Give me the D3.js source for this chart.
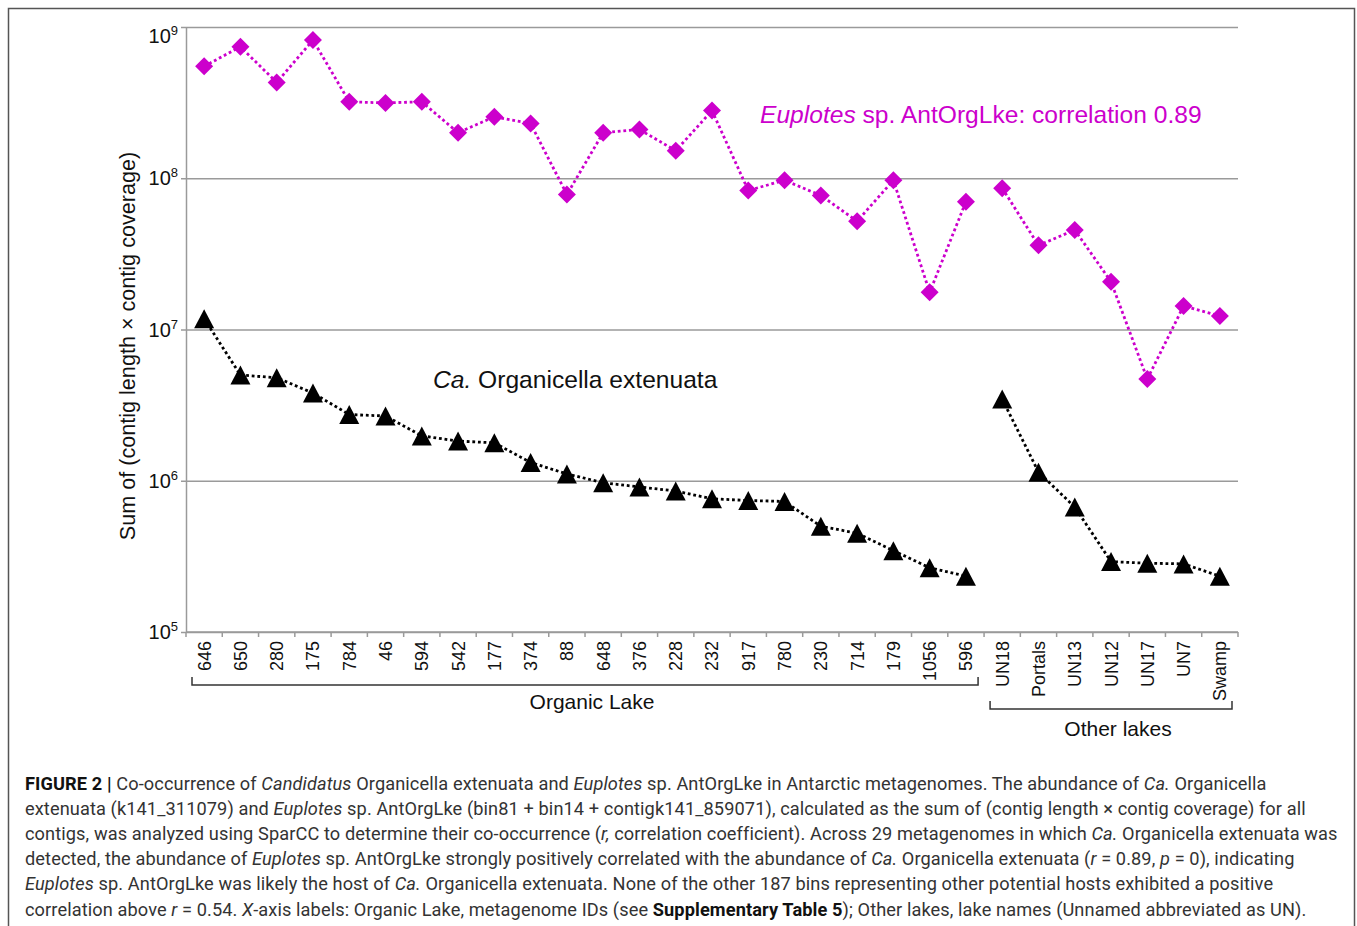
<!DOCTYPE html>
<html>
<head>
<meta charset="utf-8">
<script src="https://cdn.jsdelivr.net/npm/d3@7"></script>
<style>
body{margin:0;background:#fff}
svg{display:block}
</style>
</head>
<body>
<svg id="chart"></svg>
<script>
// metagenome IDs : Organic Lake first, then the other lakes
var organicIds=["646","650","280","175","784","46","594","542","177","374","88",
                "648","376","228","232","917","780","230","714","179","1056","596"];
var otherIds=["UN18","Portals","UN13","UN12","UN17","UN7","Swamp"];

// sum of (contig length x contig coverage), same order as the ids
var euplotesOrganic=[5.5e8,7.4e8,4.3e8,8.2e8,3.2e8,3.15e8,3.2e8,2.0e8,2.55e8,2.3e8,7.8e7,
                     2.0e8,2.1e8,1.52e8,2.8e8,8.3e7,9.7e7,7.7e7,5.2e7,9.7e7,1.76e7,7.0e7];
var euplotesOther=[8.6e7,3.6e7,4.55e7,2.07e7,4.7e6,1.43e7,1.23e7];
var organicellaOrganic=[1.18e7,5.0e6,4.8e6,3.8e6,2.74e6,2.68e6,1.98e6,1.83e6,1.78e6,1.32e6,1.11e6,
                        9.7e5,9.1e5,8.55e5,7.6e5,7.4e5,7.3e5,5.0e5,4.5e5,3.45e5,2.66e5,2.34e5];
var organicellaOther=[3.47e6,1.14e6,6.7e5,2.92e5,2.85e5,2.82e5,2.34e5];

var yTicks=[1e5,1e6,1e7,1e8,1e9];
var groupNames=["Organic Lake","Other lakes"];

var captionLines=[
  [["FIGURE 2 | ","b"],["Co-occurrence of ",""],["Candidatus","i"],[" Organicella extenuata and ",""],["Euplotes","i"],[" sp. AntOrgLke in Antarctic metagenomes. The abundance of ",""],["Ca.","i"],[" Organicella",""]],
  [["extenuata (k141_311079) and ",""],["Euplotes","i"],[" sp. AntOrgLke (bin81 + bin14 + contigk141_859071), calculated as the sum of (contig length \u00d7 contig coverage) for all",""]],
  [["contigs, was analyzed using SparCC to determine their co-occurrence (",""],["r,","i"],[" correlation coefficient). Across 29 metagenomes in which ",""],["Ca.","i"],[" Organicella extenuata was",""]],
  [["detected, the abundance of ",""],["Euplotes","i"],[" sp. AntOrgLke strongly positively correlated with the abundance of ",""],["Ca.","i"],[" Organicella extenuata (",""],["r","i"],[" = 0.89, ",""],["p","i"],[" = 0), indicating",""]],
  [["Euplotes","i"],[" sp. AntOrgLke was likely the host of ",""],["Ca.","i"],[" Organicella extenuata. None of the other 187 bins representing other potential hosts exhibited a positive",""]],
  [["correlation above ",""],["r","i"],[" = 0.54. ",""],["X","i"],["-axis labels: Organic Lake, metagenome IDs (see ",""],["Supplementary Table 5","b"],["); Other lakes, lake names (Unnamed abbreviated as UN).",""]]
];

var magenta="#cc00cc";
var chartFont="'Liberation Sans', Arial, sans-serif";

var svg=d3.select("#chart")
    .attr("width",1357)
    .attr("height",926);

// frame round the figure
svg.append("rect")
    .attr("x",8.5).attr("y",8.5)
    .attr("width",1346).attr("height",960)
    .attr("fill","none")
    .attr("stroke","#555")
    .attr("stroke-width",1.5);

var plot={left:186,right:1238,top:27,bottom:632};

var xScale=d3.scaleBand()
    .domain(organicIds.concat(otherIds))
    .range([plot.left,plot.right]);

var yScale=d3.scaleLog()
    .domain([1e5,1e9])
    .range([plot.bottom,plot.top]);

// gridlines
var grid=svg.append("g")
    .attr("transform","translate("+plot.left+",0)")
    .call(d3.axisLeft(yScale).tickValues(yTicks)
        .tickSize(-(plot.right-plot.left)).tickFormat(""));
grid.select(".domain").remove();
grid.selectAll("line").attr("stroke","#9a9a9a").attr("stroke-width",1.5);

// y axis line + small outer ticks
var yAxis=svg.append("g")
    .attr("transform","translate("+plot.left+",0)")
    .call(d3.axisLeft(yScale).tickValues(yTicks).tickSize(5).tickSizeOuter(0).tickFormat(""));
yAxis.selectAll("line,path").attr("stroke","#9a9a9a").attr("stroke-width",1.5);

// 10^n labels
var yLab=svg.append("g").selectAll("text")
    .data(yTicks)
    .enter()
    .append("text")
    .attr("x",plot.left-8)
    .attr("y",function(d){return Math.max(yScale(d),36)+7;})
    .attr("text-anchor","end")
    .attr("font-family",chartFont)
    .attr("font-size",20)
    .attr("fill","#111");
yLab.append("tspan").text("10");
yLab.append("tspan")
    .attr("font-size",13)
    .attr("dy",-8)
    .text(function(d){return Math.round(Math.log10(d));});

// x axis line and band boundary ticks
var bounds=xScale.domain().map(function(d){return xScale(d);}).concat([plot.right]);
svg.append("line")
    .attr("x1",plot.left).attr("x2",plot.right)
    .attr("y1",plot.bottom).attr("y2",plot.bottom)
    .attr("stroke","#9a9a9a").attr("stroke-width",1.5);
svg.append("g").selectAll("line")
    .data(bounds)
    .enter()
    .append("line")
    .attr("x1",function(d){return d;}).attr("x2",function(d){return d;})
    .attr("y1",plot.bottom).attr("y2",plot.bottom+5)
    .attr("stroke","#9a9a9a").attr("stroke-width",1.5);

// rotated id labels
var xAxis=svg.append("g")
    .attr("transform","translate(0,"+plot.bottom+")")
    .call(d3.axisBottom(xScale).tickSize(0));
xAxis.select(".domain").remove();
xAxis.selectAll("text")
    .attr("transform","rotate(-90)")
    .attr("x",-9).attr("y",0)
    .attr("dy","0.36em")
    .attr("text-anchor","end")
    .attr("font-family",chartFont)
    .attr("font-size",18)
    .attr("fill","#111");

// group brackets under the labels
var groups=[
  {name:groupNames[0],ids:organicIds,y:685,labelY:709},
  {name:groupNames[1],ids:otherIds,y:709,labelY:736}
];
groups.forEach(function(g){
  var x0=xScale(g.ids[0])+6;
  var x1=xScale(g.ids[g.ids.length-1])+xScale.bandwidth()-6;
  svg.append("path")
    .attr("d","M"+x0+","+(g.y-8)+"V"+g.y+"H"+x1+"V"+(g.y-8))
    .attr("fill","none")
    .attr("stroke","#333")
    .attr("stroke-width",1.5);
  svg.append("text")
    .attr("x",(x0+x1)/2+7)
    .attr("y",g.labelY)
    .attr("text-anchor","middle")
    .attr("font-family",chartFont)
    .attr("font-size",21)
    .attr("fill","#111")
    .text(g.name);
});

// y title
svg.append("text")
    .attr("transform","translate(135,346) rotate(-90)")
    .attr("text-anchor","middle")
    .attr("font-family",chartFont)
    .attr("font-size",21.6)
    .attr("fill","#111")
    .text("Sum of (contig length \u00d7 contig coverage)");

// marker shapes
var diamond={draw:function(ctx,size){
  var r=Math.sqrt(size)/2;
  ctx.moveTo(0,-r);ctx.lineTo(r,0);ctx.lineTo(0,r);ctx.lineTo(-r,0);ctx.closePath();
}};
var triangle={draw:function(ctx,size){
  var w=Math.sqrt(size),h=w*0.95;
  ctx.moveTo(0,-h/2);ctx.lineTo(w/2,h/2);ctx.lineTo(-w/2,h/2);ctx.closePath();
}};

var lineGenerator=d3.line()
    .x(function(d){return xScale(d.id)+xScale.bandwidth()/2;})
    .y(function(d){return yScale(d.v);});

var series=[
  {color:magenta,shape:diamond,size:324,parts:[[organicIds,euplotesOrganic],[otherIds,euplotesOther]]},
  {color:"#000",shape:triangle,size:400,parts:[[organicIds,organicellaOrganic],[otherIds,organicellaOther]]}
];

series.forEach(function(s){
  s.parts.forEach(function(p){
    var pts=p[0].map(function(id,i){return {id:id,v:p[1][i]};});
    svg.append("path")
      .datum(pts)
      .attr("d",lineGenerator)
      .attr("fill","none")
      .attr("stroke",s.color)
      .attr("stroke-width",2.8)
      .attr("stroke-dasharray","2.8,2.8");
    svg.append("g").selectAll("path")
      .data(pts)
      .enter()
      .append("path")
      .attr("transform",function(d){
        return "translate("+(xScale(d.id)+xScale.bandwidth()/2)+","+yScale(d.v)+")";})
      .attr("d",d3.symbol().type(s.shape).size(s.size))
      .attr("fill",s.color);
  });
});

// series labels
var lab1=svg.append("text")
    .attr("x",760).attr("y",123)
    .attr("font-family",chartFont)
    .attr("font-size",24.6)
    .attr("fill",magenta);
lab1.append("tspan").attr("font-style","italic").text("Euplotes");
lab1.append("tspan").text(" sp. AntOrgLke: correlation 0.89");

var lab2=svg.append("text")
    .attr("x",433).attr("y",388)
    .attr("font-family",chartFont)
    .attr("font-size",24.6)
    .attr("fill","#111");
lab2.append("tspan").attr("font-style","italic").text("Ca.");
lab2.append("tspan").text(" Organicella extenuata");

// caption
var cap=svg.append("g")
    .attr("font-family","Roboto, 'Liberation Sans', sans-serif")
    .attr("font-size",18.2)
    .attr("letter-spacing",0.1)
    .attr("fill","#333");
captionLines.forEach(function(line,i){
  var t=cap.append("text")
    .attr("x",25)
    .attr("y",790+i*25.1);
  line.forEach(function(seg){
    var ts=t.append("tspan").text(seg[0]);
    if(seg[1]=="i") ts.attr("font-style","italic");
    if(seg[1]=="b") ts.attr("font-weight","bold").attr("fill","#111");
  });
});
</script>
</body>
</html>
